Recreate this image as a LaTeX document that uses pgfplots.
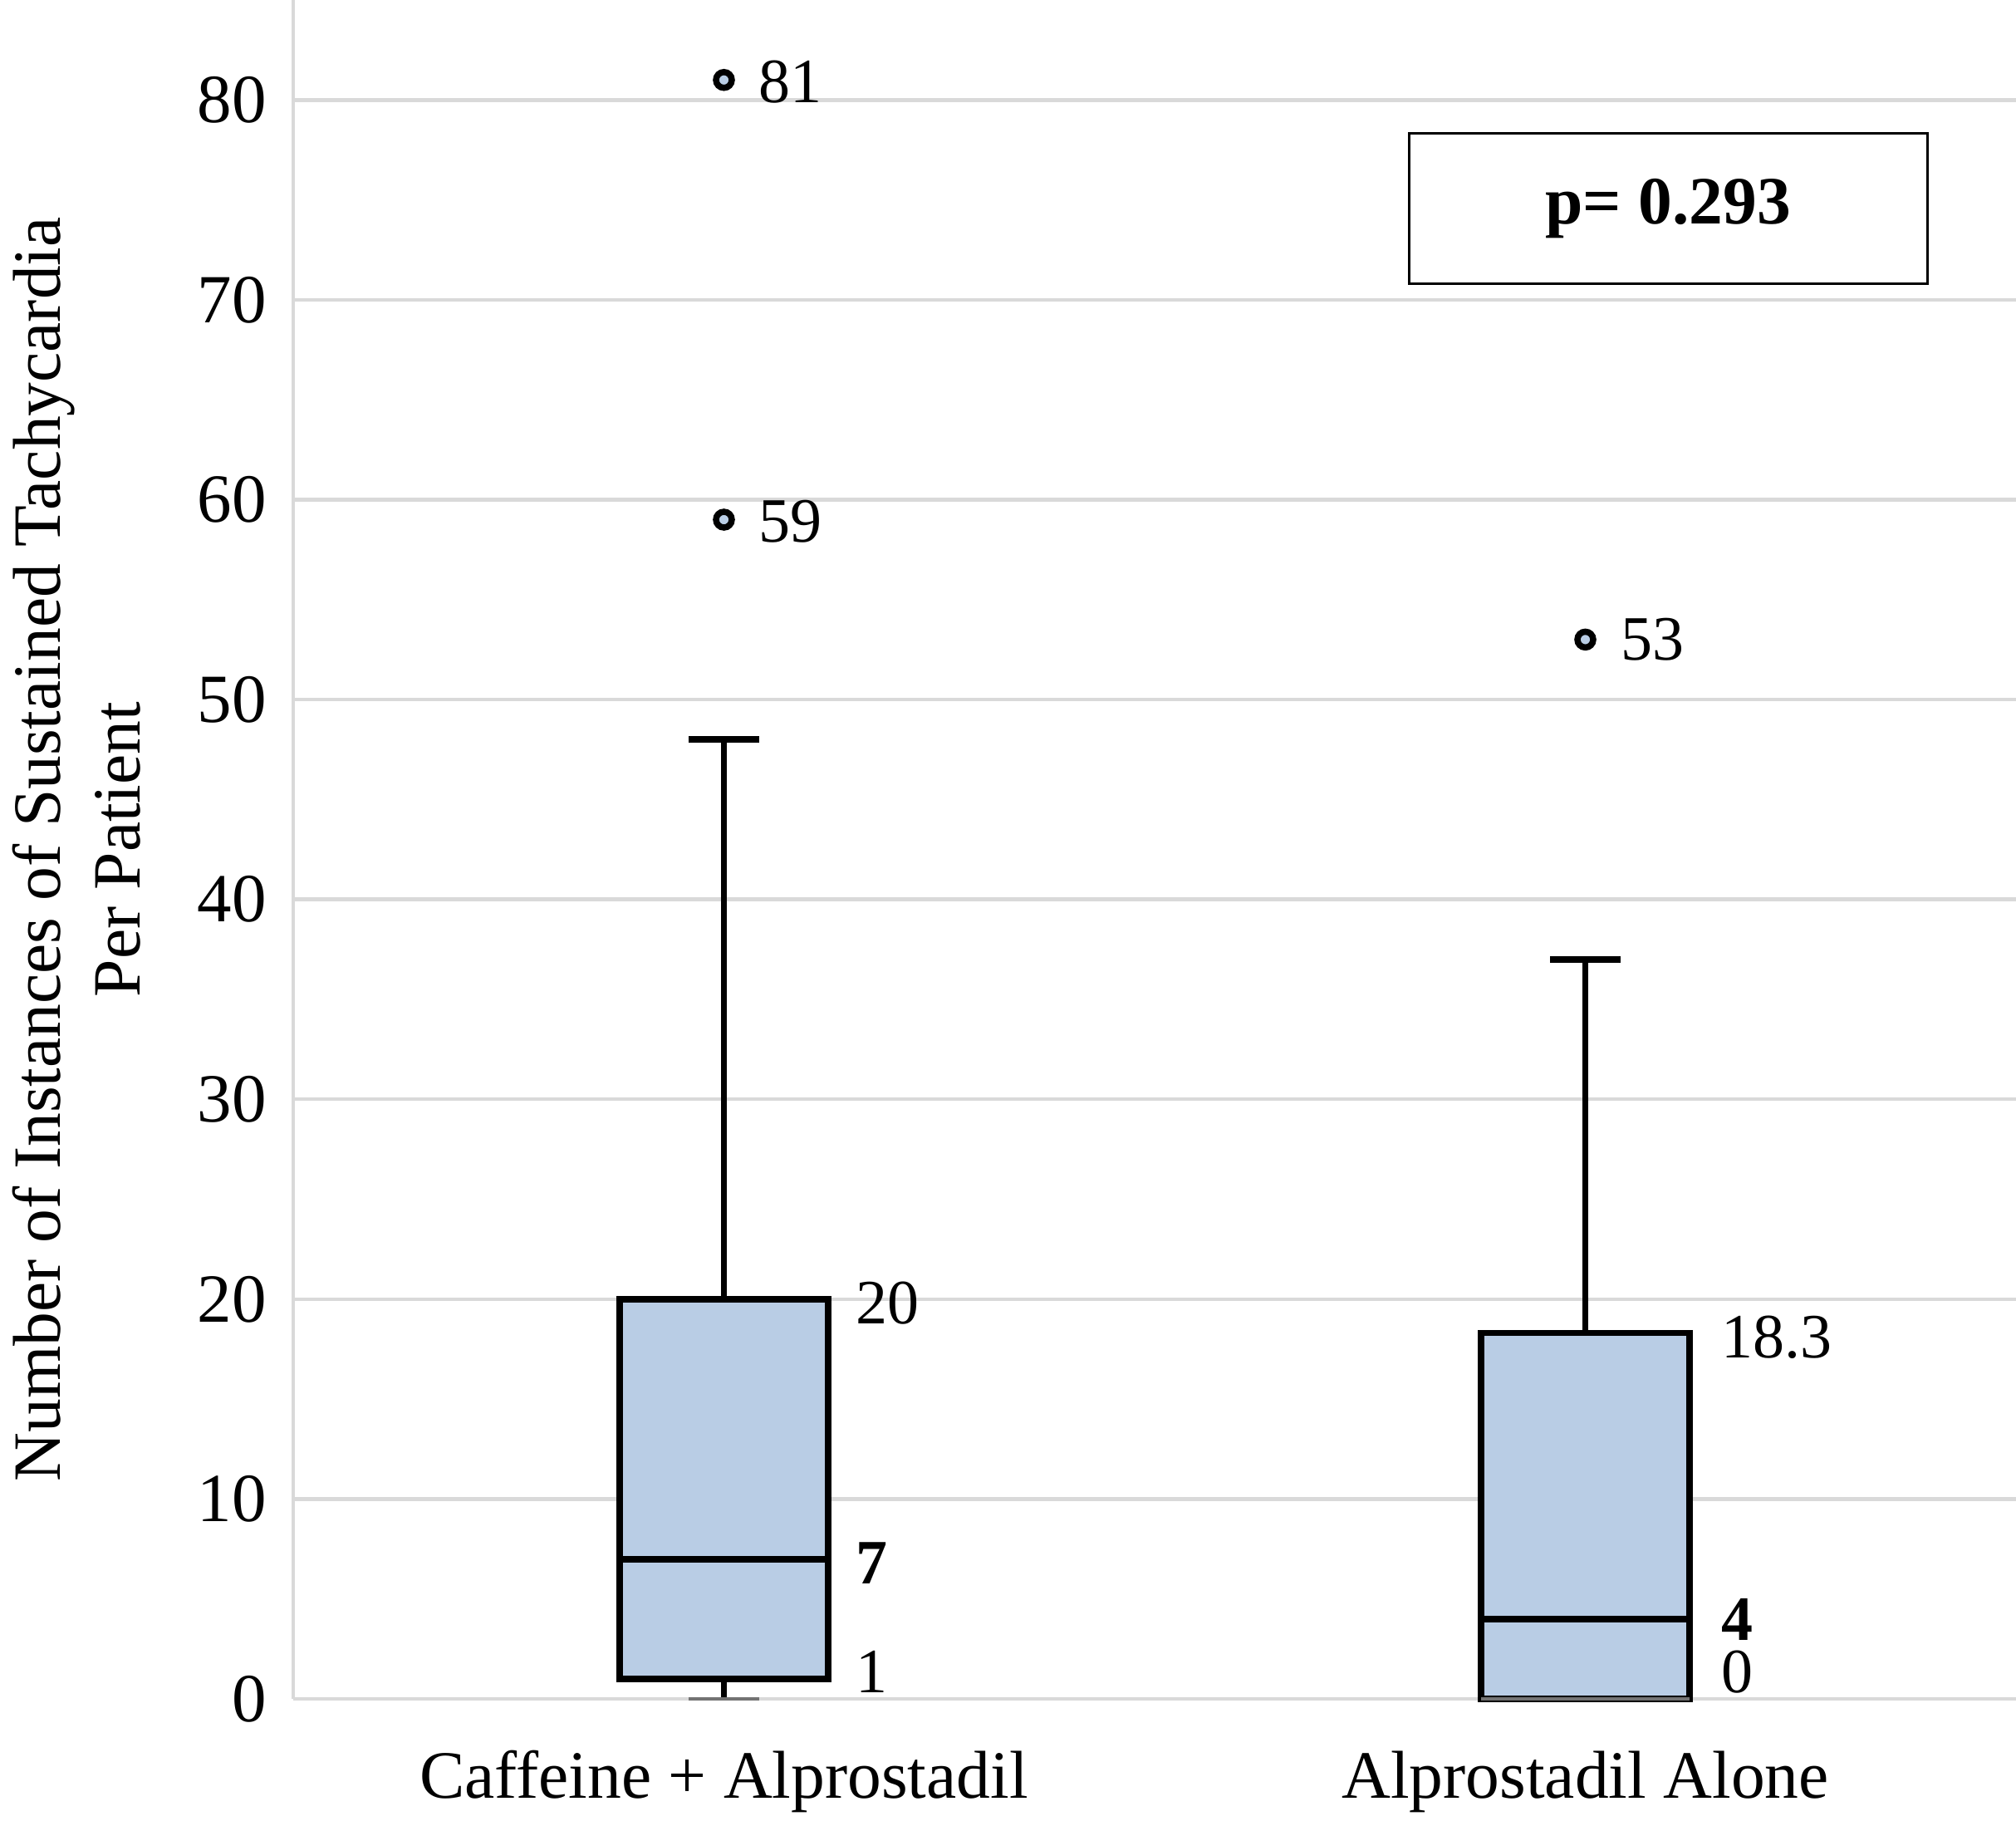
\documentclass[border=0pt]{standalone}
\usepackage{fontspec}
\setmainfont{Liberation Serif}
\usepackage{pgfplots}
\pgfplotsset{compat=1.18}

\definecolor{boxblue}{HTML}{B9CDE5}
\definecolor{gridgray}{HTML}{D9D9D9}

\tikzset{
  lbl/.style={anchor=west, inner sep=0pt, font=\fontsize{15.2}{18}\selectfont},
  blbl/.style={lbl, font=\fontsize{15.2}{18}\selectfont\bfseries},
}

\begin{document}
\begin{tikzpicture}
\begin{axis}[
    scale only axis,
    width = 414.8pt,
    height = 409pt,
    xmin = -0.5, xmax = 1.5,
    ymin = 0, ymax = 85,
    clip = false,
    axis x line* = bottom,
    axis y line* = left,
    axis line style = {gridgray, line width=0.9pt, -},
    ymajorgrids = true,
    grid style = {gridgray, line width=0.9pt},
    xtick = {0,1},
    xticklabels = {Caffeine + Alprostadil, Alprostadil Alone},
    ytick = {0,10,20,30,40,50,60,70,80},
    major tick length = 0pt,
    tick label style = {inner sep=0pt},
    xticklabel style = {font=\fontsize{16.3}{19.2}\selectfont, yshift=-12.3pt},
    yticklabel style = {font=\fontsize{16.6}{19.2}\selectfont, xshift=-6.2pt},
    /pgf/number format/assume math mode = true,
    ylabel = {Number of Instances of Sustained Tachycardia\\Per Patient},
    ylabel style = {at={(axis description cs:-0.0882,0.5)}, anchor=south,
        align=center, inner sep=0pt, font=\fontsize{16.3}{19.2}\selectfont},
]

% Caffeine + Alprostadil: whiskers 0 / 48, quartiles 1 / 20, median 7
\addplot [black, line width=1.5pt] coordinates {(0,20) (0,48)};
\addplot [black, line width=1.5pt] coordinates {(-0.041,48) (0.041,48)};
\addplot [black, line width=1.5pt] coordinates {(0,1) (0,0)};
\addplot [black!55, line width=0.9pt] coordinates {(-0.041,0) (0.041,0)};
\addplot [draw=black, fill=boxblue, line width=1.5pt]
    coordinates {(-0.121,1) (0.121,1) (0.121,20) (-0.121,20)} -- cycle;
\addplot [black, line width=1.6pt] coordinates {(-0.121,7) (0.121,7)};
\addplot [only marks, mark=*, mark size=1.9pt,
    mark options={fill=boxblue, draw=black, line width=1.5pt}]
    coordinates {(0,59) (0,81)};

% Alprostadil Alone: whiskers 0 / 37, quartiles 0 / 18.3, median 4
\addplot [black, line width=1.5pt] coordinates {(1,18.3) (1,37)};
\addplot [black, line width=1.5pt] coordinates {(0.959,37) (1.041,37)};
\addplot [draw=black, fill=boxblue, line width=1.5pt]
    coordinates {(0.879,0) (1.121,0) (1.121,18.3) (0.879,18.3)} -- cycle;
\addplot [black!55, line width=0.9pt] coordinates {(0.879,0) (1.121,0)};
\addplot [black, line width=1.6pt] coordinates {(0.879,4) (1.121,4)};
\addplot [only marks, mark=*, mark size=1.9pt,
    mark options={fill=boxblue, draw=black, line width=1.5pt}]
    coordinates {(1,53)};

\node[lbl]  at (axis cs:0.152,19.8) {20};
\node[blbl] at (axis cs:0.152,6.8) {7};
\node[lbl]  at (axis cs:0.152,1.35) {1};
\node[lbl]  at (axis cs:0.040,80.9) {81};
\node[lbl]  at (axis cs:0.040,58.9) {59};
\node[lbl]  at (axis cs:1.157,18.1) {18.3};
\node[blbl] at (axis cs:1.157,3.95) {4};
\node[lbl]  at (axis cs:1.157,1.35) {0};
\node[lbl]  at (axis cs:1.040,53) {53};

\node[draw=black, line width=0.6pt, minimum width=124.8pt, minimum height=36.2pt,
      inner sep=0pt, font=\fontsize{16.3}{19.2}\selectfont\bfseries]
      at (axis cs:1.096,74.55) {p= 0.293};

\coordinate (bl) at (rel axis cs:0,0);
\coordinate (tr) at (rel axis cs:1,1);
\end{axis}
\pgfresetboundingbox
\path[use as bounding box] ([xshift=-70.6pt,yshift=-29.2pt]bl) rectangle (tr);
\end{tikzpicture}
\end{document}
